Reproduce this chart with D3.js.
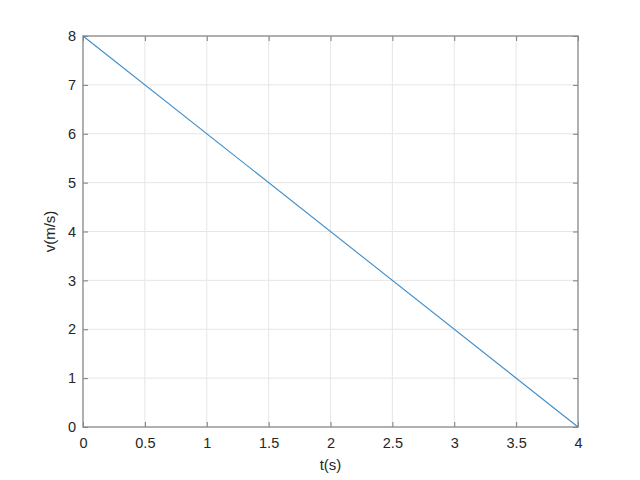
<!DOCTYPE html>
<html>
<head>
<meta charset="utf-8">
<script src="https://cdn.jsdelivr.net/npm/d3@7"></script>
<style>
body { margin: 0; background: #fff; }
</style>
</head>
<body>
<div id="chart"></div>
<script>
var tValues = [0, 4];
var vValues = [8, 0];
var xTicks = [0, 0.5, 1, 1.5, 2, 2.5, 3, 3.5, 4];
var yTicks = [0, 1, 2, 3, 4, 5, 6, 7, 8];

var margin = {top: 36, right: 62, bottom: 53, left: 83},
    width = 640 - margin.left - margin.right,
    height = 480 - margin.top - margin.bottom;

var svg = d3.select("#chart").append("svg")
    .attr("width", 640)
    .attr("height", 480)
  .append("g")
    .attr("transform", "translate(" + margin.left + "," + margin.top + ")");

var x = d3.scaleLinear().domain([0, 4]).range([0, width]);
var y = d3.scaleLinear().domain([0, 8]).range([height, 0]);

// grid
svg.append("g")
    .selectAll("line")
    .data(xTicks)
    .enter().append("line")
    .attr("x1", d => x(d)).attr("x2", d => x(d))
    .attr("y1", 0).attr("y2", height)
    .attr("stroke", "#e6e6e6").attr("stroke-width", 1);

svg.append("g")
    .selectAll("line")
    .data(yTicks)
    .enter().append("line")
    .attr("x1", 0).attr("x2", width)
    .attr("y1", d => y(d)).attr("y2", d => y(d))
    .attr("stroke", "#e6e6e6").attr("stroke-width", 1);

var axisStyle = function(g) {
    g.select(".domain").remove();
    g.selectAll(".tick line").attr("stroke", "#7a7a7a");
    g.selectAll(".tick text")
        .style("font-family", "Liberation Sans, Arial, sans-serif")
        .style("font-size", "14.5px")
        .attr("fill", "#262626");
};

var xAxis = d3.axisBottom(x).tickValues(xTicks).tickSizeInner(-5).tickSizeOuter(0).tickPadding(11).tickFormat(d3.format(""));
var yAxis = d3.axisLeft(y).tickValues(yTicks).tickSizeInner(-5).tickSizeOuter(0).tickPadding(7).tickFormat(d3.format(""));

svg.append("g").attr("transform", "translate(0," + height + ")").call(xAxis).call(axisStyle);
svg.append("g").call(yAxis).call(axisStyle);

// top/right ticks
svg.append("g").call(d3.axisTop(x).tickValues(xTicks).tickSizeInner(-5).tickSizeOuter(0).tickFormat(""))
    .call(g => { g.select(".domain").remove(); g.selectAll(".tick line").attr("stroke", "#7a7a7a"); });
svg.append("g").attr("transform", "translate(" + width + ",0)")
    .call(d3.axisRight(y).tickValues(yTicks).tickSizeInner(-5).tickSizeOuter(0).tickFormat(""))
    .call(g => { g.select(".domain").remove(); g.selectAll(".tick line").attr("stroke", "#7a7a7a"); });

// box
svg.append("rect")
    .attr("x", 0).attr("y", 0)
    .attr("width", width).attr("height", height)
    .attr("fill", "none")
    .attr("stroke", "#8c8c8c")
    .attr("stroke-width", 1.3);

// line
var line = d3.line()
    .x((d, i) => x(tValues[i]))
    .y(d => y(d));

svg.append("path")
    .datum(vValues)
    .attr("fill", "none")
    .attr("stroke", "#3d8cc9")
    .attr("stroke-width", 1.1)
    .attr("d", line);

// labels
svg.append("text")
    .attr("x", width / 2)
    .attr("y", height + 43)
    .attr("text-anchor", "middle")
    .style("font-family", "Liberation Sans, Arial, sans-serif")
    .style("font-size", "15px")
    .attr("fill", "#262626")
    .text("t(s)");

svg.append("text")
    .attr("transform", "rotate(-90)")
    .attr("x", -height / 2)
    .attr("y", -28)
    .attr("text-anchor", "middle")
    .style("font-family", "Liberation Sans, Arial, sans-serif")
    .style("font-size", "15px")
    .attr("fill", "#262626")
    .text("v(m/s)");
</script>
</body>
</html>
